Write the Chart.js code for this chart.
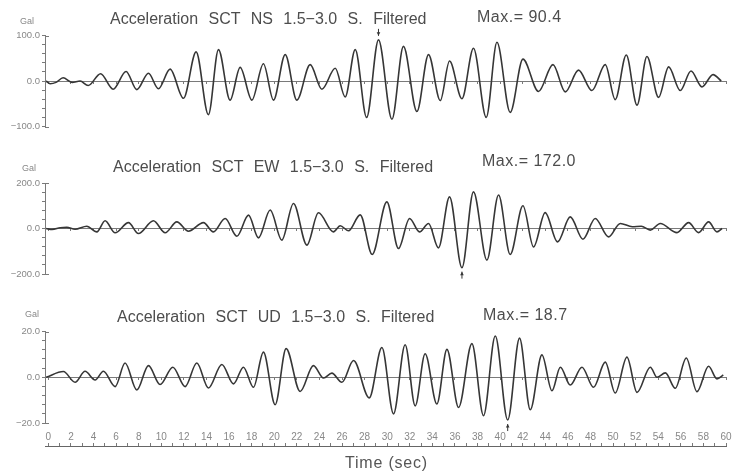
<!DOCTYPE html>
<html>
<head>
<meta charset="utf-8">
<script src="https://cdn.jsdelivr.net/npm/chart.js@4.4.0/dist/chart.umd.min.js"></script>
<style>
  body { margin: 0; background: #fff; }
  #wrap { position: relative; width: 732px; height: 474px; overflow: hidden; font-family: "Liberation Sans", Arial, sans-serif; }
  canvas { position: absolute; left: 0; }
  .txt { position: absolute; white-space: pre; }
  .title { font-size: 16px; line-height: 20px; color: #4d4d4d; word-spacing: 6px; }
  .max { font-size: 16px; line-height: 20px; color: #4d4d4d; letter-spacing: 0.5px; }
  .unit { font-size: 9px; line-height: 10px; color: #888; }
  .xlabel { font-size: 16px; line-height: 20px; color: #555; letter-spacing: 0.8px; }
</style>
</head>
<body>
<div id="wrap">
  <canvas id="nsChart" style="top:0px"></canvas>
  <canvas id="ewChart" style="top:145px"></canvas>
  <canvas id="udChart" style="top:290px"></canvas>
  <canvas id="timeAxis" style="top:425px"></canvas>
</div>
<script>
// extrema (time in sec, acceleration in Gal)
const nsTime = [-0.2, 0.15, 0.68, 1.3, 2.1, 2.81, 3.52, 4.62, 5.73, 6.88, 7.83, 8.86, 9.74, 10.78, 11.96, 13.08, 14.17, 15.06, 16.09, 16.98, 18.02, 19.04, 19.93, 20.97, 22.0, 23.18, 24.22, 25.4, 26.28, 27.17, 28.18, 29.23, 30.42, 31.44, 32.63, 33.66, 34.7, 35.52, 36.62, 37.64, 38.77, 39.72, 40.89, 42.02, 43.4, 44.68, 45.77, 46.94, 48.13, 49.31, 50.19, 51.17, 52.12, 53.0, 54.03, 54.92, 55.95, 56.9, 57.87, 58.85, 59.58];
const nsValue = [0, -6, -3, 7, -3, 0, -10, 16, -18, 21, -19, 17, -17, 26, -38, 64, -74, 69, -42, 30, -42, 38, -42, 58, -42, 36, -18, 28, -35, 69, -80, 90.4, -84, 76, -67, 58, -43, 44, -39, 72, -80, 85, -69, 48, -23, 36, -24, 24, -21, 36, -41, 57, -53, 54, -36, 31, -21, 22, -13, 14, 0];

const ewTime = [-0.2, 0.33, 1.04, 1.63, 2.36, 3.4, 4.29, 5.02, 5.91, 7.09, 7.97, 9.3, 10.34, 11.37, 12.4, 13.73, 14.61, 15.65, 16.69, 17.72, 18.6, 19.64, 20.67, 21.7, 22.89, 23.91, 25.24, 25.84, 26.57, 27.61, 28.67, 29.97, 31.0, 31.98, 32.86, 33.66, 34.54, 35.52, 36.62, 37.64, 38.83, 39.86, 40.89, 42.02, 42.96, 43.99, 45.08, 46.21, 47.33, 48.42, 49.6, 50.64, 51.7, 52.5, 53.3, 54.18, 55.66, 56.69, 57.57, 58.46, 59.2, 59.65];
const ewValue = [0, -4, 3, 5, -3, 10, -15, 34, -19, 26, -22, 34, -19, 29, -12, 26, -15, 44, -34, 59, -41, 81, -51, 110, -73, 69, -15, 12, -10, 60, -114, 117, -88, 44, -15, 22, -85, 139, -172.0, 161, -139, 147, -114, 100, -81, 70, -59, 51, -47, 44, -37, 22, 8, 10, -7, 22, -18, 26, -18, 29, -15, 0];

const udTime = [-0.2, 1.33, 2.36, 3.25, 4.14, 4.87, 5.91, 6.79, 7.83, 8.86, 9.89, 11.02, 12.11, 13.14, 14.17, 15.36, 16.39, 17.27, 18.16, 19.04, 20.08, 21.05, 22.29, 23.47, 24.36, 25.1, 25.99, 27.02, 28.41, 29.53, 30.56, 31.59, 32.48, 33.36, 34.4, 35.29, 36.32, 37.5, 38.53, 39.57, 40.67, 41.72, 42.67, 43.7, 44.59, 45.33, 46.21, 47.25, 48.27, 49.31, 50.19, 51.23, 52.12, 53.3, 53.89, 54.63, 55.51, 56.48, 57.43, 58.46, 59.2, 59.76];
const udValue = [0, 2.5, -2.2, 2.6, -1.2, 2.6, -4.1, 6.2, -5.6, 5.1, -3.2, 4.4, -4.1, 6.2, -4.7, 5.6, -2.9, 4.4, -4.4, 11, -12, 12.5, -6.2, 5.1, -0.3, 1.8, -2.2, 7.3, -9, 13, -16, 14.2, -12.5, 10.3, -11.7, 12.2, -13.2, 14.7, -16.8, 18.0, -18.7, 17.1, -14.2, 9.8, -5.9, 4.4, -3.4, 4.4, -4.4, 6.6, -6.9, 8.8, -6.6, 4.4, 0, 1.9, -4.8, 8.4, -6.3, 4.8, -0.7, 1];

const components = ['NS', 'EW', 'UD'];
const axisLimits = [100, 200, 20];
const peakTimes = [29.23, 36.62, 40.67];
const peakValues = [90.4, -172.0, -18.7];
const timeTicks = [0, 60];

const series = [[nsTime, nsValue], [ewTime, ewValue], [udTime, udValue]];
const canvasIds = ['nsChart', 'ewChart', 'udChart'];
const canvasHeights = [140, 140, 145];
const paddings = [[35.5, 13.5], [38, 11], [41.5, 12]];
const titleTops = [9, 157, 307];
const titleLefts = [110, 113, 117];
const maxTops = [7, 151, 305];
const maxLefts = [477, 482, 483];
const unitPos = [[20, 16], [22, 163], [25, 309]];

const ink = '#363636';
const axisGray = '#7a7a7a';

// arrow at the largest value + bracket ends on the y axis
const peakMark = {
  id: 'peakMark',
  afterDatasetsDraw(chart, args, opts) {
    const { ctx, scales: { x, y }, chartArea } = chart;
    ctx.save();
    ctx.strokeStyle = axisGray;
    ctx.lineWidth = 1;
    ctx.beginPath();
    [y.max, y.min].forEach(v => {
      const py = Math.round(y.getPixelForValue(v)) + 0.5;
      ctx.moveTo(chartArea.left, py);
      ctx.lineTo(chartArea.left + 4, py);
    });
    ctx.stroke();

    const px = x.getPixelForValue(opts.t);
    const py = y.getPixelForValue(opts.v);
    const dir = opts.v > 0 ? -1 : 1;
    const tip = py + dir * 4;
    const tail = py + dir * 11;
    ctx.strokeStyle = ink;
    ctx.fillStyle = ink;
    ctx.beginPath();
    ctx.moveTo(px, tail);
    ctx.lineTo(px, tip);
    ctx.stroke();
    ctx.beginPath();
    ctx.moveTo(px, tip);
    ctx.lineTo(px - 1.8, tip + dir * 3.5);
    ctx.lineTo(px + 1.8, tip + dir * 3.5);
    ctx.closePath();
    ctx.fill();
    ctx.restore();
  }
};

function fmt(v, lim) {
  if (v !== lim && v !== -lim && v !== 0) return '';
  return (v < 0 ? '\u2212' : '') + Math.abs(v).toFixed(1);
}

const wrap = document.getElementById('wrap');
function addText(cls, text, left, top) {
  const d = document.createElement('div');
  d.className = 'txt ' + cls;
  d.textContent = text;
  d.style.left = left + 'px';
  d.style.top = top + 'px';
  wrap.appendChild(d);
}

components.forEach((comp, i) => {
  const lim = axisLimits[i];
  const [times, values] = series[i];
  const canvas = document.getElementById(canvasIds[i]);
  canvas.width = 732;
  canvas.height = canvasHeights[i];

  addText('title', `Acceleration SCT ${comp} 1.5\u22123.0 S. Filtered`, titleLefts[i], titleTops[i]);
  addText('max', `Max.= ${Math.abs(peakValues[i]).toFixed(1)}`, maxLefts[i], maxTops[i]);
  addText('unit', 'Gal', unitPos[i][0], unitPos[i][1]);

  new Chart(canvas, {
    type: 'line',
    data: {
      datasets: [{
        data: times.map((t, k) => ({ x: t, y: values[k] })),
        borderColor: ink,
        borderWidth: 1.6,
        pointRadius: 0,
        cubicInterpolationMode: 'monotone',
        fill: false
      }]
    },
    options: {
      responsive: false,
      animation: false,
      layout: { padding: { left: 0, right: 6, top: paddings[i][0], bottom: paddings[i][1] } },
      plugins: {
        legend: { display: false },
        tooltip: { enabled: false },
        peakMark: { t: peakTimes[i], v: peakValues[i] }
      },
      scales: {
        x: {
          type: 'linear',
          min: -0.3,
          max: timeTicks[1],
          position: { y: 0 },
          ticks: { display: false, stepSize: 2, includeBounds: false },
          grid: { drawOnChartArea: false, tickLength: 2, color: axisGray },
          border: { color: axisGray, width: 1 }
        },
        y: {
          min: -lim,
          max: lim,
          afterFit(scale) { scale.width = 45; },
          ticks: {
            stepSize: lim / 5,
            autoSkip: false,
            padding: 2,
            color: '#888',
            font: { family: 'Liberation Sans', size: 9.5 },
            callback: v => fmt(v, lim)
          },
          grid: { drawOnChartArea: false, tickLength: 3, color: axisGray },
          border: { color: axisGray, width: 1 }
        }
      }
    },
    plugins: [peakMark]
  });
});

// shared time axis under the bottom panel
const tc = document.getElementById('timeAxis');
tc.width = 732;
tc.height = 49;
new Chart(tc, {
  type: 'line',
  data: { datasets: [] },
  options: {
    responsive: false,
    animation: false,
    layout: { padding: { left: 45, right: 6, top: 5, bottom: 0 } },
    plugins: { legend: { display: false }, tooltip: { enabled: false } },
    scales: {
      x: {
        type: 'linear',
        position: 'top',
        min: -0.3,
        max: timeTicks[1],
        afterFit(scale) { scale.height = 16; },
        ticks: {
          stepSize: 1,
          includeBounds: false,
          autoSkip: false,
          maxRotation: 0,
          padding: 0,
          color: '#888',
          font: { family: 'Liberation Sans', size: 10 },
          callback: v => (v % 2 === 0 ? String(v) : '')
        },
        grid: { drawOnChartArea: false, tickLength: 3, color: axisGray },
        border: { color: '#666', width: 1 }
      },
      y: { display: false }
    }
  }
});

addText('xlabel', 'Time (sec)', 345, 453);
</script>
</body>
</html>
